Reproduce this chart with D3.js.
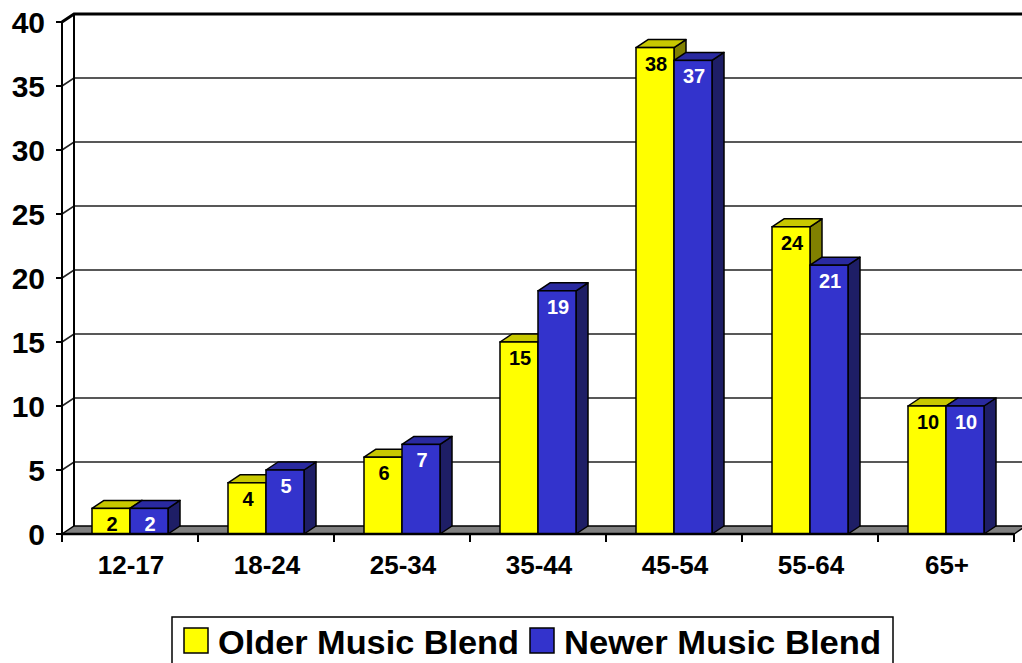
<!DOCTYPE html>
<html>
<head>
<meta charset="utf-8">
<script src="https://cdn.jsdelivr.net/npm/d3@7"></script>
<style>
  body { margin: 0; background: #fff; }
  text { font-family: Arial, "Liberation Sans", sans-serif; font-weight: bold; }
</style>
</head>
<body>
<div id="chart"></div>
<script>
// data
var categories = ["12-17", "18-24", "25-34", "35-44", "45-54", "55-64", "65+"];
var seriesNames = ["Older Music Blend", "Newer Music Blend"];
var olderValues = [2, 4, 6, 15, 38, 24, 10];
var newerValues = [2, 5, 7, 19, 37, 21, 10];
var yTicks = [0, 5, 10, 15, 20, 25, 30, 35, 40];

var width = 1022, height = 663;
var depthX = 12, depthY = -8;

var colours = {
    "Older Music Blend": { front: "#ffff00", top: "#c8c800", side: "#808000", label: "#000" },
    "Newer Music Blend": { front: "#3333cc", top: "#2a2aa0", side: "#1e1e66", label: "#fff" }
};

var svg = d3.select("#chart").append("svg")
    .attr("width", width)
    .attr("height", height);

//scales
var xScale = d3.scaleBand()
    .domain(categories)
    .range([62, 1014]);

var seriesScale = d3.scaleBand()
    .domain(seriesNames)
    .range([30, 106]);

var yScale = d3.scaleLinear()
    .domain([0, 40])
    .range([534, 22]);

//back wall gridlines
var grid = svg.append("g").attr("class", "grid");

grid.selectAll(".gline")
    .data(yTicks.filter(d => d > 0))
    .enter()
    .append("path")
    .attr("class", "gline")
    .attr("fill", "none")
    .attr("stroke", d => d === 40 ? "#000" : "#222")
    .attr("stroke-width", d => d === 40 ? 3 : 1.6)
    .attr("d", d => {
        var y = yScale(d);
        return "M62," + y + "L" + (62 + depthX) + "," + (y + depthY) + "L" + (width + 5) + "," + (y + depthY);
    });

// back wall left edge
grid.append("line")
    .attr("x1", 62 + depthX).attr("x2", 62 + depthX)
    .attr("y1", yScale(40) + depthY).attr("y2", yScale(0) + depthY)
    .attr("stroke", "#000").attr("stroke-width", 2);

//floor
svg.append("path")
    .attr("fill", "#808080")
    .attr("stroke", "#000")
    .attr("stroke-width", 1.5)
    .attr("d", "M62," + yScale(0) + "L1014," + yScale(0) + "L" + (1014 + depthX) + "," + (yScale(0) + depthY) +
        "L" + (62 + depthX) + "," + (yScale(0) + depthY) + "Z");

//bars
var barData = [];
categories.forEach((c, i) => {
    barData.push({ cat: c, series: seriesNames[0], value: olderValues[i] });
    barData.push({ cat: c, series: seriesNames[1], value: newerValues[i] });
});

var bars = svg.append("g").attr("class", "bars")
    .selectAll(".bar")
    .data(barData)
    .enter()
    .append("g")
    .attr("class", "bar");

function barGeom(d) {
    var x0 = xScale(d.cat) + seriesScale(d.series);
    var x1 = x0 + seriesScale.bandwidth();
    var y0 = yScale(d.value);
    var y1 = yScale(0);
    return { x0, x1, y0, y1 };
}

bars.append("path")
    .attr("fill", d => colours[d.series].side)
    .attr("stroke", "#000")
    .attr("stroke-width", 1.5)
    .attr("stroke-linejoin", "round")
    .attr("d", d => {
        var g = barGeom(d);
        return "M" + g.x1 + "," + g.y0 + "L" + (g.x1 + depthX) + "," + (g.y0 + depthY) +
            "L" + (g.x1 + depthX) + "," + (g.y1 + depthY) + "L" + g.x1 + "," + g.y1 + "Z";
    });

bars.append("path")
    .attr("fill", d => colours[d.series].top)
    .attr("stroke", "#000")
    .attr("stroke-width", 1.5)
    .attr("stroke-linejoin", "round")
    .attr("d", d => {
        var g = barGeom(d);
        return "M" + g.x0 + "," + g.y0 + "L" + (g.x0 + depthX) + "," + (g.y0 + depthY) +
            "L" + (g.x1 + depthX) + "," + (g.y0 + depthY) + "L" + g.x1 + "," + g.y0 + "Z";
    });

bars.append("rect")
    .attr("fill", d => colours[d.series].front)
    .attr("stroke", "#000")
    .attr("stroke-width", 1.5)
    .attr("x", d => barGeom(d).x0)
    .attr("y", d => barGeom(d).y0)
    .attr("width", seriesScale.bandwidth())
    .attr("height", d => yScale(0) - yScale(d.value));

bars.append("text")
    .attr("x", d => barGeom(d).x0 + seriesScale.bandwidth() / 2 + 1)
    .attr("y", d => barGeom(d).y0 + 23)
    .attr("text-anchor", "middle")
    .attr("font-size", 20)
    .attr("fill", d => colours[d.series].label)
    .text(d => d.value);

//axes
var axes = svg.append("g").attr("class", "axes");

axes.append("line")
    .attr("x1", 62).attr("x2", 62)
    .attr("y1", yScale(40)).attr("y2", yScale(0))
    .attr("stroke", "#000").attr("stroke-width", 2);

axes.append("line")
    .attr("x1", 62).attr("x2", 1014)
    .attr("y1", yScale(0)).attr("y2", yScale(0))
    .attr("stroke", "#000").attr("stroke-width", 2.5);

axes.selectAll(".ytick")
    .data(yTicks)
    .enter()
    .append("line")
    .attr("x1", 56).attr("x2", 62)
    .attr("y1", d => yScale(d)).attr("y2", d => yScale(d))
    .attr("stroke", "#000").attr("stroke-width", 2);

axes.selectAll(".ylabel")
    .data(yTicks)
    .enter()
    .append("text")
    .attr("x", 45)
    .attr("y", d => yScale(d) + 11)
    .attr("text-anchor", "end")
    .attr("font-size", 30)
    .text(d => d);

axes.selectAll(".xtick")
    .data(categories.concat(["end"]))
    .enter()
    .append("line")
    .attr("x1", (d, i) => 62 + i * xScale.step())
    .attr("x2", (d, i) => 62 + i * xScale.step())
    .attr("y1", yScale(0)).attr("y2", yScale(0) + 8)
    .attr("stroke", "#000").attr("stroke-width", 2);

axes.selectAll(".xlabel")
    .data(categories)
    .enter()
    .append("text")
    .attr("x", d => xScale(d) + xScale.bandwidth() / 2 + 1)
    .attr("y", 574)
    .attr("text-anchor", "middle")
    .attr("font-size", 26)
    .text(d => d);

//legend
var legend = svg.append("g").attr("class", "legend");

legend.append("rect")
    .attr("x", 172).attr("y", 617)
    .attr("width", 721).attr("height", 60)
    .attr("fill", "#fff")
    .attr("stroke", "#000").attr("stroke-width", 1.5);

var legendX = [184, 530];
seriesNames.forEach((s, i) => {
    legend.append("rect")
        .attr("x", legendX[i]).attr("y", 628)
        .attr("width", 24).attr("height", 25)
        .attr("fill", colours[s].front)
        .attr("stroke", "#000").attr("stroke-width", 1.5);
    legend.append("text")
        .attr("x", legendX[i] + 34)
        .attr("y", 654)
        .attr("font-size", 34)
        .attr("textLength", i === 0 ? 301 : 317)
        .attr("lengthAdjust", "spacingAndGlyphs")
        .text(s);
});
</script>
</body>
</html>
